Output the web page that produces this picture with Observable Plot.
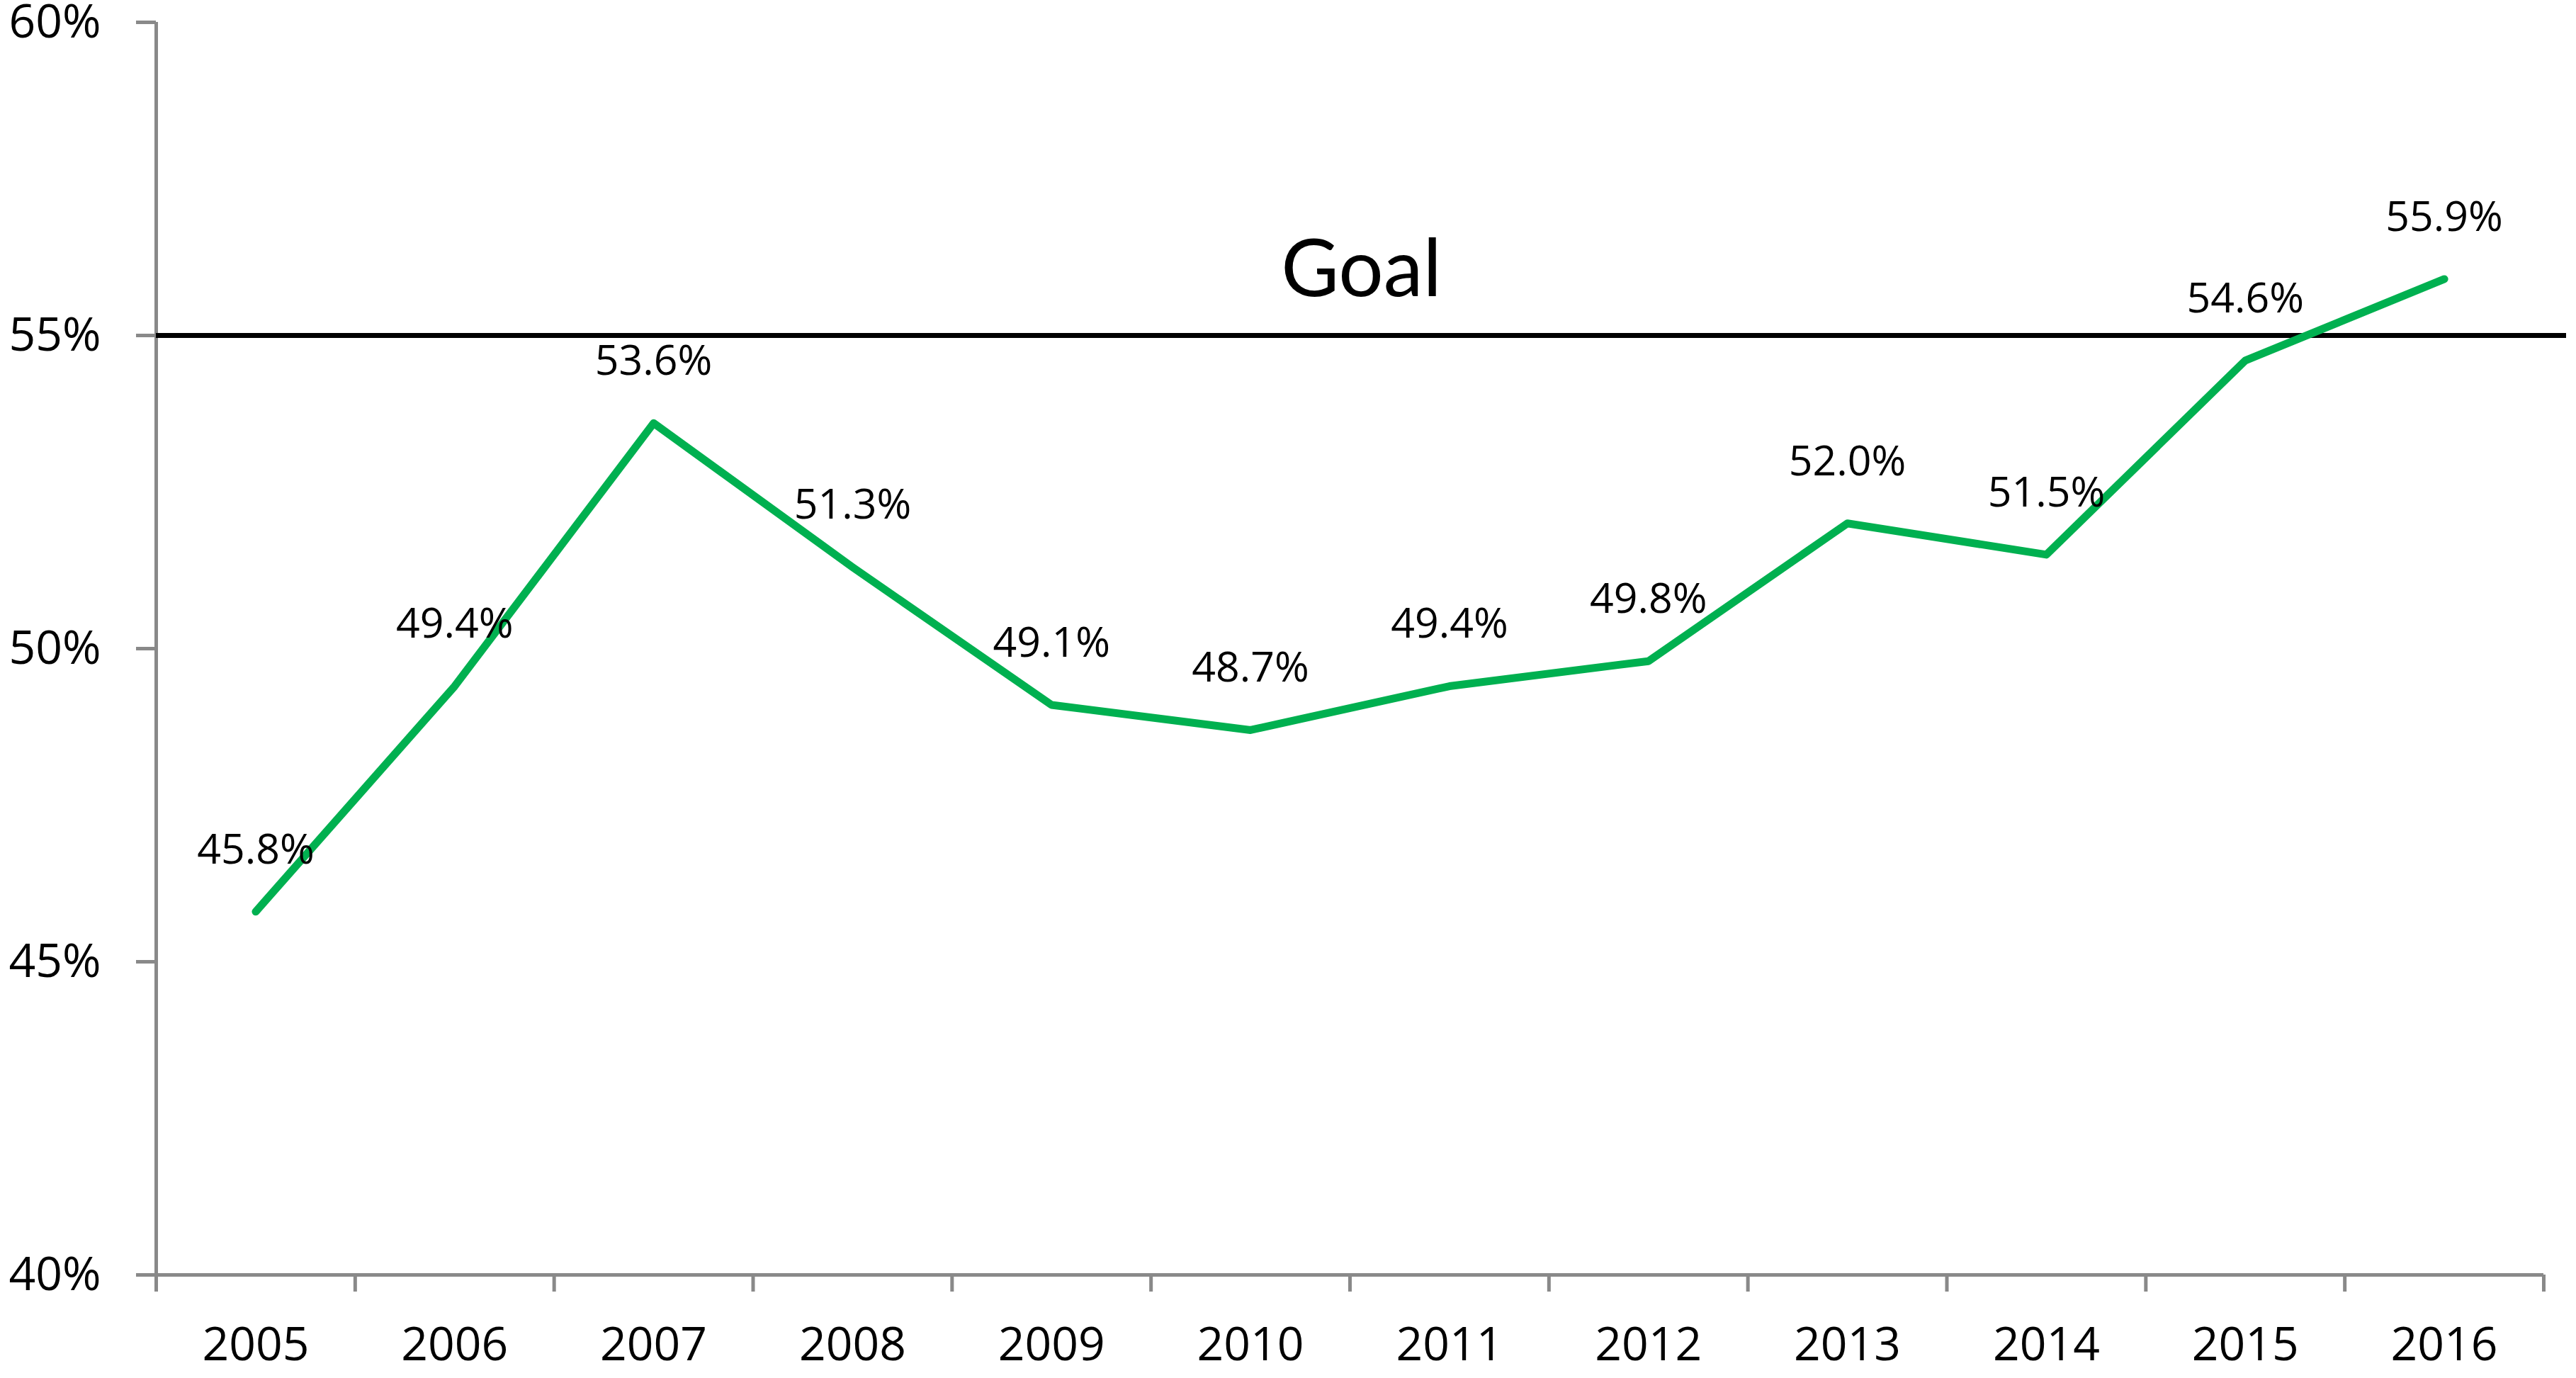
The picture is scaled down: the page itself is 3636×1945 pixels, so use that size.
<!DOCTYPE html>
<html>
<head>
<meta charset="utf-8">
<script src="https://cdn.jsdelivr.net/npm/d3@7"></script>
<script src="https://cdn.jsdelivr.net/npm/@observablehq/plot@0.6"></script>
<style>
  html, body { margin: 0; padding: 0; background: #ffffff; }
  #chart svg { display: block; }
</style>
</head>
<body>
<div id="chart"></div>
<script>
// ---- data ----
const years = [2005, 2006, 2007, 2008, 2009, 2010, 2011, 2012, 2013, 2014, 2015, 2016];
const rates = [45.8, 49.4, 53.6, 51.3, 49.1, 48.7, 49.4, 49.8, 52.0, 51.5, 54.6, 55.9];
const goalValue = 55;
const goalLabel = "Goal";
const yTicks = [40, 45, 50, 55, 60];

const data = years.map((year, i) => ({year, rate: rates[i] / 100}));
const bounds = years.map(y => y - 0.5).concat([years[years.length - 1] + 0.5]);

const axisGray = "#898989";
const green = "#00B050";

const chart = Plot.plot({
  width: 3636,
  height: 1945,
  marginLeft: 220,
  marginRight: 46,
  marginTop: 31,
  marginBottom: 146,
  style: {fontFamily: "'Open Sans', sans-serif", color: "black", background: "white"},
  x: {type: "linear", domain: [bounds[0], bounds[bounds.length - 1]]},
  y: {domain: [yTicks[0] / 100, yTicks[yTicks.length - 1] / 100]},
  marks: [
    // y axis
    Plot.axisY({
      ticks: yTicks.map(d => d / 100),
      tickFormat: d => Math.round(d * 100) + "%",
      tickSize: 28,
      tickPadding: 50,
      fontSize: 66,
      stroke: axisGray,
      strokeWidth: 5,
      fill: "black",
      label: null
    }),
    Plot.ruleX([bounds[0]], {stroke: axisGray, strokeWidth: 5}),
    // x axis line and boundary ticks
    Plot.ruleY([yTicks[0] / 100], {stroke: axisGray, strokeWidth: 5}),
    Plot.axisX({
      ticks: bounds,
      tickFormat: () => "",
      tickSize: 24,
      stroke: axisGray,
      strokeWidth: 5,
      label: null
    }),
    // x labels
    Plot.axisX({
      ticks: years,
      tickFormat: d => String(d),
      tickSize: 0,
      tickPadding: 74,
      fontSize: 66,
      fill: "black",
      label: null
    }),
    // goal line
    Plot.ruleY([goalValue / 100], {stroke: "black", strokeWidth: 7, insetRight: -32}),
    Plot.text([goalLabel], {
      y: () => goalValue / 100,
      text: d => d,
      dx: 16,
      dy: -91,
      fontSize: 112,
      fontFamily: "Lato, 'Open Sans', sans-serif",
      fill: "black",
      textAnchor: "middle"
    }),
    // series line
    Plot.line(data, {
      x: "year",
      y: "rate",
      stroke: green,
      strokeWidth: 11,
      strokeLinecap: "round",
      strokeLinejoin: "round"
    }),
    // data labels
    Plot.text(data, {
      x: "year",
      y: "rate",
      text: d => (d.rate * 100).toFixed(1) + "%",
      dy: -87,
      fontSize: 59,
      fill: "black",
      textAnchor: "middle"
    })
  ]
});

document.getElementById("chart").appendChild(chart);
</script>
</body>
</html>
